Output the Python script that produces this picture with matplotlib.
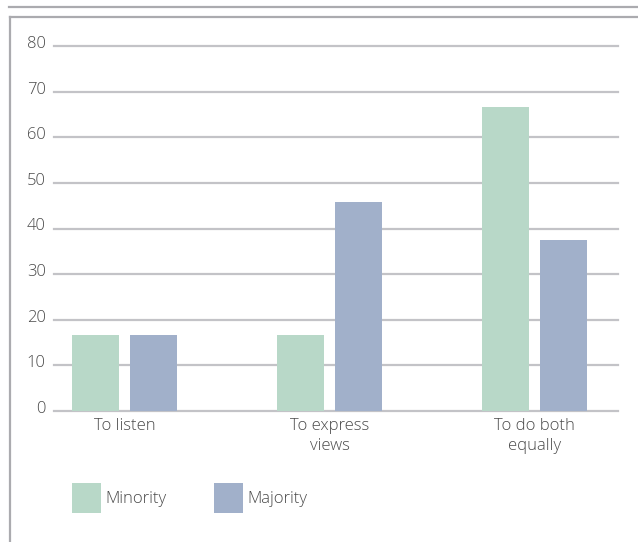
import numpy as np
import matplotlib
matplotlib.use('Agg')
import matplotlib.pyplot as plt
from matplotlib.lines import Line2D
from matplotlib.transforms import ScaledTranslation

# Share of respondents by preferred role in discussion (%)
categories = ['To listen', 'To express\nviews', 'To do both\nequally']
minority = [16.7, 16.7, 66.7]
majority = [16.7, 45.8, 37.5]
series_names = ['Minority', 'Majority']
yticks = [0, 10, 20, 30, 40, 50, 60, 70, 80]

GREEN = '#b8d8c8'
BLUE = '#a1b0ca'
GRID = '#c3c3c7'
FRAME = '#ababaf'
TEXT = '#4a4a4a'

plt.rcParams['font.family'] = ['Open Sans', 'DejaVu Sans']
plt.rcParams['font.weight'] = 'light'

W, H = 638, 542
fig = plt.figure(figsize=(W / 100, H / 100), dpi=100)

# outer frame: rule on top, box edges on left and top
fig.add_artist(Line2D([9 / W, 1], [1 - 7 / H, 1 - 7 / H], color=FRAME, lw=1.6))
fig.add_artist(Line2D([10 / W, 1], [1 - 17 / H, 1 - 17 / H], color=FRAME, lw=1.6))
fig.add_artist(Line2D([10 / W, 10 / W], [0, 1 - 17 / H], color=FRAME, lw=1.6))

ax = fig.add_axes([54 / W, 1 - 411 / H, (618 - 54) / W, (411 - 46) / H])

x = np.arange(len(categories))
bw = 0.23
off = 0.1415
b1 = ax.bar(x - off, minority, bw, color=GREEN, zorder=3, label=series_names[0])
b2 = ax.bar(x + off, majority, bw, color=BLUE, zorder=3, label=series_names[1])

ax.set_ylim(0, 80)
ax.set_xlim(-0.344, 2.407)
ax.set_yticks(yticks)
ax.set_yticklabels([str(v) for v in yticks])
for v in yticks:
    ax.axhline(v, color=GRID, lw=1.6, zorder=1, clip_on=False)

ax.set_xticks(x)
ax.set_xticklabels(categories, linespacing=1.3)
ax.tick_params(axis='both', length=0, labelsize=12, colors=TEXT)
ax.tick_params(axis='y', pad=6)
ax.tick_params(axis='x', pad=5)
for s in ax.spines.values():
    s.set_visible(False)

# y labels sit just above their gridlines
lift = ScaledTranslation(0, 4 / 100, fig.dpi_scale_trans)
for lbl in ax.get_yticklabels():
    lbl.set_transform(lbl.get_transform() + lift)

fig.legend(handles=[b1, b2], labels=series_names, loc='center left',
           bbox_to_anchor=(72 / W, 1 - 498 / H), ncol=2, frameon=False,
           fontsize=12, handlelength=1.75, handleheight=2.4,
           handletextpad=0.28, columnspacing=2.8, borderpad=0,
           borderaxespad=0, labelcolor=TEXT)

fig.savefig('out.png', dpi=100)
